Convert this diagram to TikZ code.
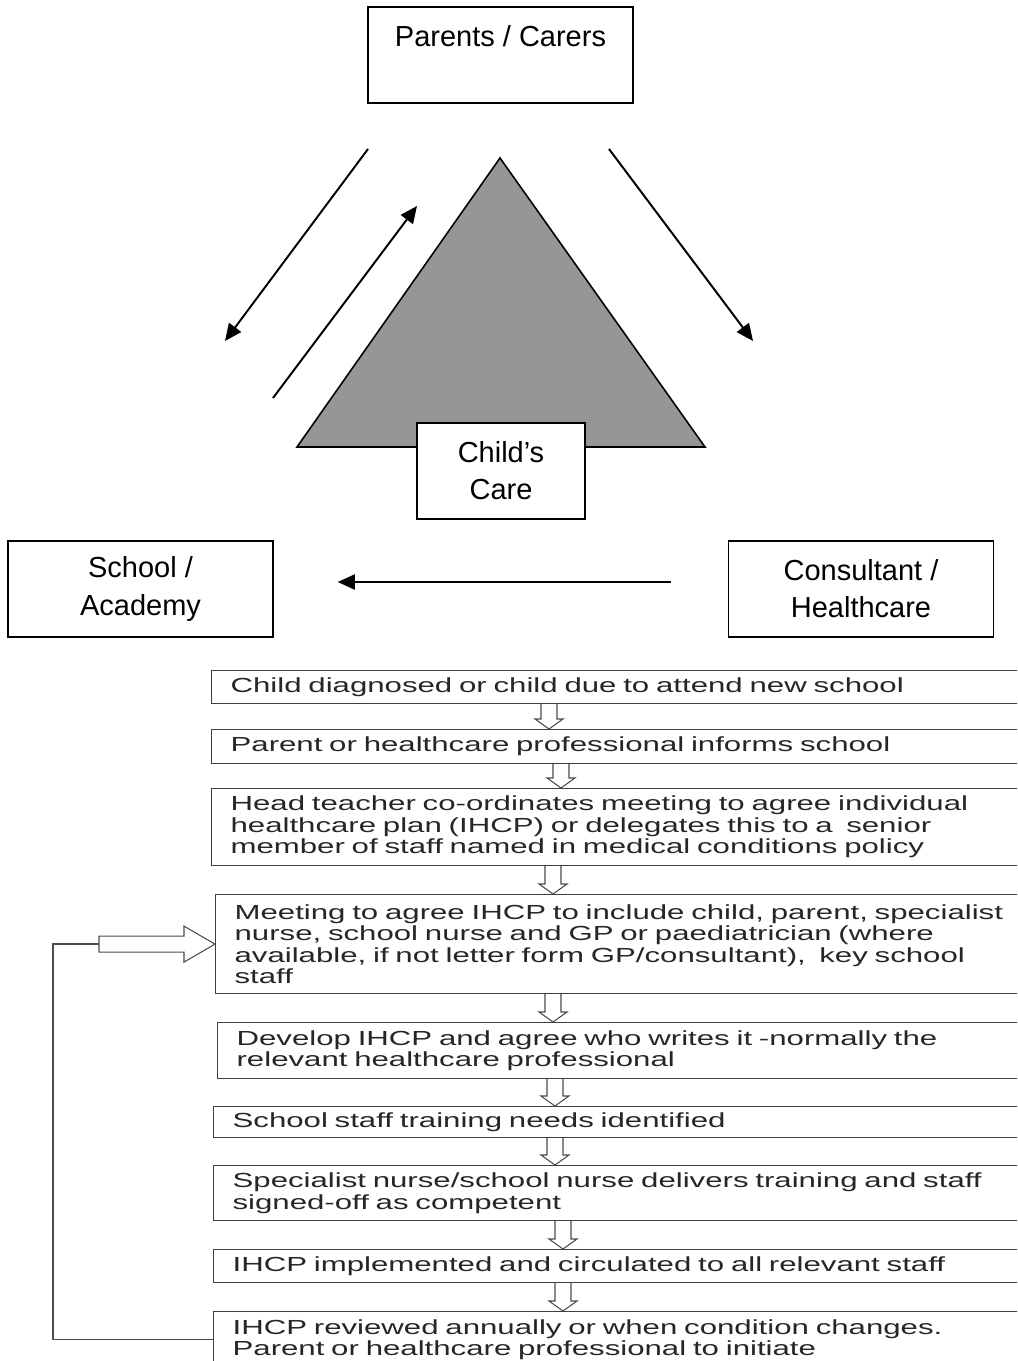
\documentclass[tikz,border=0pt]{standalone}
\usepackage{fontspec}
\setmainfont{Liberation Sans}
\newfontfamily\flowfont[FakeStretch=1.53]{Liberation Sans}
\usetikzlibrary{arrows.meta,calc}
\definecolor{trigray}{RGB}{150,150,150}

% hollow block arrow from one step box down to the next
\newcommand{\flowdown}[3]{%
  \coordinate (flow x) at (#1,0);
  \coordinate (ft) at (#2.south -| flow x);
  \coordinate (fb) at (#3.north -| flow x);
  \draw[hollow] ($(ft)+(-8,0)$) -- ($(fb)+(-8,-10)$) -- ($(fb)+(-14,-10)$) -- (fb)
    -- ($(fb)+(14,-10)$) -- ($(fb)+(8,-10)$) -- ($(ft)+(8,0)$);
}

\begin{document}
\begin{tikzpicture}[x=0.02cm,y=-0.02cm]
    \tikzset{
    care box/.style={draw,line width=0.9pt,fill=white,minimum width=5.3cm,minimum height=1.92cm,inner sep=0,align=center,font=\fontsize{16.5}{21.2}\selectfont},
    care arrow/.style={-{Triangle[length=0.34cm,width=0.3cm]},line width=1.1pt},
    flow box/.style={draw=black!75,line width=0.7pt,anchor=north west,text width=17cm,inner xsep=0.38cm,inner ysep=0,align=left,text=black!85,font=\flowfont\fontsize{11.6}{12.2}\selectfont},
    hollow/.style={draw=black!70,line width=0.6pt,fill=white},
    loop line/.style={draw=black!70,line width=0.8pt}
    }
    \useasboundingbox (0,0) rectangle (1017,1361);
    \clip (0,0) rectangle (1017,1361);

    % the triangle of care
    \draw[fill=trigray,line width=0.9pt] (500,158) -- (297,447) -- (705,447) -- cycle;
    \node[care box,text height=0.8cm,text depth=1.12cm] (parents) at (500.5,55) {Parents / Carers};
    \node[care box,minimum width=3.36cm] (care) at (501,471) {Child’s\\Care};
    \node[care box] (school) at (140.5,589) {School /\\Academy};
    \node[care box] (consultant) at (861,589) {Consultant /\\Healthcare};

    \coordinate (p2s from) at (368,149);
    \coordinate (p2s to) at (225,341);
    \coordinate (s2p from) at (273,398);
    \coordinate (s2p to) at (417,206);
    \coordinate (p2c from) at (609,149);
    \coordinate (p2c to) at (753,341);
    \draw[care arrow] (p2s from) -- (p2s to);
    \draw[care arrow] (s2p from) -- (s2p to);
    \draw[care arrow] (p2c from) -- (p2c to);
    \draw[care arrow,shorten <=1.14cm,shorten >=1.28cm] ([yshift=0.14cm]consultant.west) -- ([yshift=0.14cm]school.east);

    % the steps
    \node[flow box,minimum height=0.66cm] (b1) at (211,670) {Child diagnosed or child due to attend new school};
    \node[flow box,minimum height=0.68cm] (b2) at (211,729) {Parent or healthcare professional informs school};
    \node[flow box,minimum height=1.54cm] (b3) at (211,788) {Head teacher co-ordinates meeting to agree individual\\healthcare plan (IHCP) or delegates this to a\ \ senior\\member of staff named in medical conditions policy};
    \node[flow box,minimum height=1.98cm] (b4) at (215,894) {Meeting to agree IHCP to include child, parent, specialist\\nurse, school nurse and GP or paediatrician (where\\available, if not letter form GP/consultant),\ \ key school\\staff};
    \node[flow box,minimum height=1.12cm] (b5) at (217,1022) {Develop IHCP and agree who writes it -normally the\\relevant healthcare professional};
    \node[flow box,minimum height=0.62cm] (b6) at (213,1106) {School staff training needs identified};
    \node[flow box,minimum height=1.1cm] (b7) at (213,1165) {Specialist nurse/school nurse delivers training and staff\\signed-off as competent};
    \node[flow box,minimum height=0.66cm] (b8) at (213,1249) {IHCP implemented and circulated to all relevant staff};
    \node[flow box,minimum height=1.12cm] (b9) at (213,1311) {IHCP reviewed annually or when condition changes.\\Parent or healthcare professional to initiate};

    \flowdown{549}{b1}{b2}
    \flowdown{561}{b2}{b3}
    \flowdown{553}{b3}{b4}
    \flowdown{553}{b4}{b5}
    \flowdown{555}{b5}{b6}
    \flowdown{555}{b6}{b7}
    \flowdown{563}{b7}{b8}
    \flowdown{563}{b8}{b9}

    % review loops back to the meeting
    \draw[loop line] (b9.west) -| ($(b4.west)+(-162,0)$) -- ($(b4.west)+(-116,0)$);
    \draw[hollow] ($(b4.west)+(-116,-8)$) -- ($(b4.west)+(-31,-8)$) -- ($(b4.west)+(-31,-18)$) -- (b4.west)
      -- ($(b4.west)+(-31,18)$) -- ($(b4.west)+(-31,8)$) -- ($(b4.west)+(-116,8)$) -- cycle;
\end{tikzpicture}
\end{document}
